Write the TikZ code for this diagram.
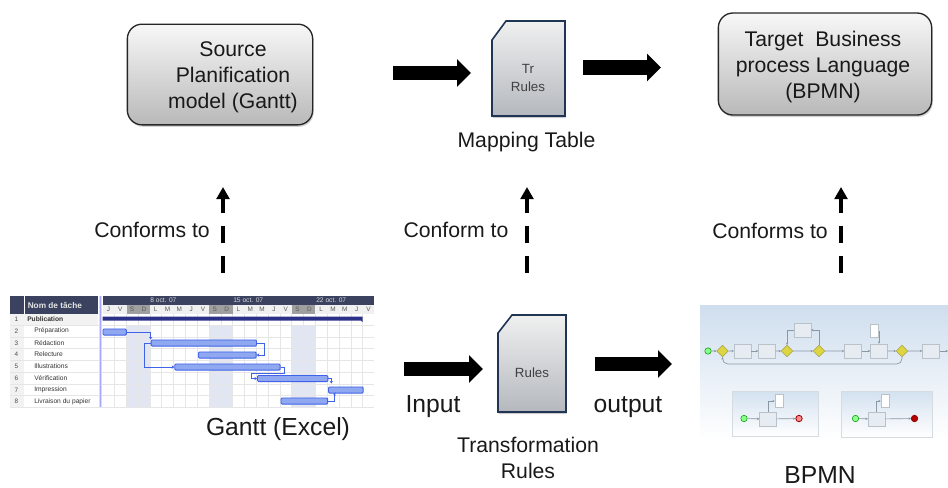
\documentclass[tikz,border=0pt]{standalone}
\usepackage{fontspec}
\setmainfont{Liberation Sans}
\usetikzlibrary{arrows.meta,shadows,calc}
\definecolor{edge}{HTML}{1F3553}
\definecolor{hdr}{HTML}{3A4260}
\definecolor{barf}{HTML}{8FA8F0}
\definecolor{barl}{HTML}{3F62E8}
\definecolor{wkend}{HTML}{E1E6F2}
\definecolor{gridc}{HTML}{E6E6E6}
\definecolor{bpbg}{HTML}{CFDEEE}
\definecolor{bpbox}{HTML}{E6ECF2}
\definecolor{bpline}{HTML}{8A97A5}
\tikzset{
 x=0.75pt,y=-0.75pt,
 lbl/.style={font=\fontsize{15.9}{19.5}\selectfont,align=center,text=black!90,inner sep=0pt},
 biglbl/.style={font=\fontsize{18.5}{22}\selectfont,align=center,text=black!90,inner sep=0pt},
 modelbox/.style={draw=black!85,line width=1pt,rounded corners=11pt,top color=gray!6,bottom color=gray!55,
   drop shadow={shadow xshift=0.8pt,shadow yshift=-1.5pt,opacity=.35},minimum width=139pt,inner sep=0pt},
 docshape/.style={draw=edge,line width=1.2pt,top color=gray!12,bottom color=edge!40!gray!45,
   drop shadow={shadow xshift=0.5pt,shadow yshift=-1.5pt,opacity=.4}},
 doclbl/.style={font=\fontsize{10}{13.5}\selectfont,align=center,text=black!75,inner sep=0pt},
 bigarrow/.style={line width=11pt,-{Triangle[length=10.5pt,width=20pt]},black},
 conformarrow/.style={line width=3.4pt,black,dash pattern=on 12.7pt off 9.8pt,-{Triangle[length=9pt,width=9.5pt]}},
 gbar/.style={draw=barl,fill=barf,line width=.7pt,rounded corners=.8pt,anchor=north west,minimum height=4.6pt,inner sep=0pt},
 glink/.style={draw=barl,line width=.5pt,-{Stealth[length=2pt,width=2.5pt]}},
 gtxt/.style={font=\fontsize{5}{6}\selectfont,anchor=west,inner sep=0pt,text=black!80},
 gnum/.style={font=\fontsize{4.8}{6}\selectfont,inner sep=0pt,text=black!70},
 gday/.style={font=\fontsize{4.8}{6}\selectfont,inner sep=0pt,text=black!65},
 gdate/.style={font=\fontsize{5}{6}\selectfont,inner sep=0pt,anchor=west,text=white!85!black},
 bptask/.style={draw=bpline!60,fill=bpbox,line width=.4pt,minimum width=12.5pt,minimum height=10.5pt,inner sep=0pt},
 bpgate/.style={draw=black!40!yellow,fill=yellow!70!gray,line width=.4pt,minimum size=6pt,inner sep=0pt,rotate=45},
 bpflow/.style={draw=bpline,line width=.5pt,-{Stealth[length=1.8pt,width=1.8pt]}},
 bpdoc/.style={draw=bpline!60,fill=white,line width=.4pt,minimum width=6pt,minimum height=10pt,inner sep=0pt},
 bpstart/.style={circle,draw=green!60!black,fill=green!45,line width=.4pt,minimum size=4.8pt,inner sep=0pt},
 bpend/.style={circle,draw=red!60!black,fill=red!45,line width=.6pt,minimum size=4.8pt,inner sep=0pt},
 bppanel/.style={draw=bpline!35,top color=bpbg!90,bottom color=white,line width=.4pt,anchor=north west,inner sep=0pt},
}
\begin{document}
\begin{tikzpicture}
\useasboundingbox (0,0) rectangle (948,487);
% ===== top row
\node[modelbox,minimum height=75.5pt] (src) at (220,74.5) {};
\node[lbl] (srct) at (233,77.5) {Source\\Planification\\model (Gantt)};
\node[modelbox,minimum width=160pt,minimum height=76.5pt] (tgt) at (825,64) {};
\node[lbl] (tgtt) at (823,67) {Target\ \ Business\\process Language\\(BPMN)};
\filldraw[docshape] (492,40) -- (506,21) -- (565,21) -- (565,116) -- (492,116) -- cycle;
\node[doclbl] (tr) at (528,78) {Tr\\Rules};
\node[lbl] (map) at (526.5,142) {Mapping Table};
% ===== arrows top
\coordinate (a1) at (393,73); \coordinate (a2) at (471,73);
\coordinate (a3) at (583,67.5); \coordinate (a4) at (661,67.5);
\draw[bigarrow] (a1) -- (a2);
\draw[bigarrow] (a3) -- (a4);
% ===== conform arrows
\coordinate (c1) at (223,273); \coordinate (c2) at (223,187);
\coordinate (c3) at (527,273); \coordinate (c4) at (527,187);
\coordinate (c5) at (841,273); \coordinate (c6) at (841,187);
\draw[conformarrow] (c1) -- (c2);
\draw[conformarrow] (c3) -- (c4);
\draw[conformarrow] (c5) -- (c6);
\node[lbl] (l1) at (152,230) {Conforms to};
\node[lbl] (l2) at (456,230) {Conform to};
\node[lbl] (l3) at (770,231) {Conforms to};
% ===== lower middle
\filldraw[docshape] (498,333) -- (512,315) -- (566,315) -- (566,412) -- (498,412) -- cycle;
\node[doclbl] (rl) at (532,373) {Rules};
\coordinate (b1) at (404,369); \coordinate (b2) at (483,369);
\coordinate (b3) at (595,364); \coordinate (b4) at (672,364);
\draw[bigarrow] (b1) -- (b2);
\draw[bigarrow] (b3) -- (b4);
\node[biglbl] (inp) at (433,407) {Input};
\node[biglbl] (outp) at (628,407) {output};
\node[lbl] (trf) at (528,458) {Transformation\\Rules};
\node[biglbl] (gx) at (278,429.5) {Gantt (Excel)};
\node[biglbl] (bp) at (820,475) {BPMN};
% ===== Gantt
\fill[hdr] (10,296) rectangle (24,314);
\fill[hdr] (25,296) rectangle (98,314);
\node[font=\fontsize{6.2}{7}\bfseries\selectfont,anchor=west,inner sep=0pt,text=white!90!black] (gh) at (27.5,305) {Nom de tâche};
\fill[hdr] (102.5,296) rectangle (374,305);
\fill[gray!12] (102.5,305) rectangle (374,314);
\fill[gray!10] (10,314) rectangle (98,325);
\fill[gray!75] (126.5,305) rectangle (150,314);
\fill[gray!75] (209,305) rectangle (233,314);
\fill[gray!75] (292,305) rectangle (315,314);
\fill[wkend] (126.5,325) rectangle (150,407);
\fill[wkend] (209,325) rectangle (233,407);
\fill[wkend] (292,325) rectangle (315,407);
\fill[gray!10] (10,314) rectangle (24,407);
\foreach \i in {1,...,22} \draw[gridc,line width=.3pt] ({102.5+\i*11.82},314) -- ({102.5+\i*11.82},407);
\foreach \y in {325,337,348.5,360,372,384,395.5,407} \draw[gridc,line width=.3pt] (10,\y) -- (374,\y);
\foreach \i/\d in {0/J,1/V,2/S,3/D,4/L,5/M,6/M,7/J,8/V,9/S,10/D,11/L,12/M,13/M,14/J,15/V,16/S,17/D,18/L,19/M,20/M,21/J,22/V}
  \node[gday] at ({108.4+\i*11.82},309.5) {\d};
\node[gdate] at (150,300.5) {8 oct. 07};
\node[gdate] at (233,300.5) {15 oct. 07};
\node[gdate] at (316,300.5) {22 oct. 07};
\fill[blue!14!white] (98.5,296) rectangle (102,407);
\draw[blue!35!white,line width=.5pt] (100,296) -- (100,407);
\foreach \n/\y/\t in {2/331/Préparation,3/343/Rédaction,4/354.5/Relecture,5/366.5/Illustrations,6/378/Vérification,7/390/Impression,8/401.5/Livraison du papier}{
  \node[gnum] at (16.5,\y) {\n};
  \node[gtxt] at (34,\y) {\t};
}
\node[gnum] at (16.5,319.5) {1};
\node[gtxt,font=\fontsize{5}{6}\bfseries\selectfont] at (27,319.5) {Publication};
\fill[hdr!75!blue] (102.5,316.5) -- (362.5,316.5) -- (362.5,322) -- (361,320.5) -- (102.5,320.5) -- cycle;
\node[gbar,minimum width=17.5pt] (g2) at (102.5,328.5) {};
\node[gbar,minimum width=79pt] (g3) at (150.7,339.5) {};
\node[gbar,minimum width=43.3pt] (g4) at (198,351.5) {};
\node[gbar,minimum width=79pt] (g5) at (174.3,363.5) {};
\node[gbar,minimum width=52.8pt] (g6) at (257,375) {};
\node[gbar,minimum width=26pt] (g7) at (328,386.5) {};
\node[gbar,minimum width=35pt] (g8) at (280.5,397.5) {};
\draw[glink] (g2.east) -| (g3.north west);
\draw[glink] (g3.east) -| ++(7,0) |- (g4.east);
\draw[glink] (g3.west) -- ++(-6,0) |- (g5.west);
\draw[glink] (g5.east) -- ++(4,0) -- ++(0,6) -- ++(-33,0) |- (g6.west);
\draw[glink] (g6.east) -| ++(3,5);
\draw[glink] (g8.east) -- ++(6,0) -- ++(0,-7) -- ++(-1,0);
% ===== BPMN
\shade[top color=bpbg,bottom color=white] (700,305) rectangle (948,440);
\node[bpstart] (s1) at (708,351) {};
\node[bpgate] (g1) at (722.5,351) {};
\node[bptask] (t1) at (742.5,351) {};
\node[bptask] (t2) at (767,351) {};
\node[bpgate] (g12) at (787,351) {};
\node[bptask] (t3) at (802.5,330) {};
\node[bpgate] (g13) at (819,351) {};
\node[bptask] (t4) at (853,351) {};
\node[bptask] (t5) at (879,351) {};
\node[bpgate] (g14) at (902,351) {};
\node[bptask] (t6) at (931,351) {};
\node[bpdoc] (d1) at (874.5,331) {};
\coordinate (e1) at (948,351);
\draw[bpflow] (s1) -- (g1);
\draw[bpflow] (g1) -- (t1);
\draw[bpflow] (t1) -- (t2);
\draw[bpflow] (t2) -- (g12);
\draw[bpflow] (g12) -- (g13);
\draw[bpflow] (g13) |- (t3);
\draw[bpflow] (t3) -| (g12);
\draw[bpflow] (g13) -- (t4);
\draw[bpflow] (t4) -- (t5);
\draw[bpflow] (t5) -- (g14);
\draw[bpflow] (g14) -- (t6);
\draw[bpflow] (t6) -- (e1);
\draw[bpflow] (d1) -| (t5);
\draw[bpflow,rounded corners=4pt] (g14) |- (722.5,364) -- (g1);
\node[bppanel,minimum width=64.5pt,minimum height=34pt] (p1) at (732,391) {};
\node[bpstart] (s2) at (744,418.5) {};
\node[bptask] (t7) at (768,419) {};
\node[bpend] (e2) at (799,418.5) {};
\node[bpdoc] (d2) at (779,401) {};
\draw[bpflow] (s2) -- (t7);
\draw[bpflow] (t7) -- (e2);
\draw[bpflow] (t7) |- (d2);
\node[bppanel,minimum width=68pt,minimum height=34.5pt] (p2) at (841,391) {};
\node[bpstart] (s3) at (855.5,418.5) {};
\node[bptask] (t8) at (876.5,419) {};
\node[bpend,fill=red!70!black] (e3) at (914.5,418.5) {};
\node[bpdoc] (d3) at (885,401) {};
\draw[bpflow] (s3) -- (t8);
\draw[bpflow] (t8) -- (e3);
\draw[bpflow] (t8) |- (d3);
\end{tikzpicture}
\end{document}
